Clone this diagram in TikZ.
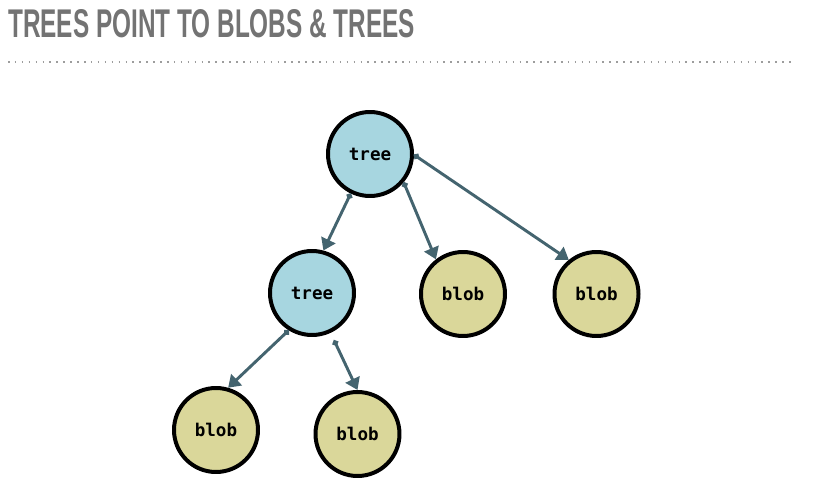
\documentclass[tikz,border=0pt]{standalone}
\usepackage{fontspec}
\usepackage{graphicx}
\setmainfont{Liberation Sans}
\setmonofont{DejaVu Sans Mono}
\usetikzlibrary{calc,arrows.meta}
\definecolor{treeblue}{HTML}{A7D6E0}
\definecolor{blobyellow}{HTML}{DAD79A}
\definecolor{linkgray}{HTML}{44646F}
\definecolor{titlegray}{HTML}{737373}
\tikzset{
	ball/.style={circle, draw=black, line width=3.4pt, minimum size=2.52cm, inner sep=0pt,
		font=\ttfamily\bfseries\fontsize{15}{17}\selectfont},
	treeball/.style={ball, fill=treeblue},
	blobball/.style={ball, fill=blobyellow},
	link/.style={draw=linkgray, line width=2.5pt,
		{Circle[length=5pt]}-{Triangle[length=10pt,width=13pt]}}
}

\begin{document}
\begin{tikzpicture}[x=0.03cm, y=-0.03cm]
		%%%%% START %%%%%
		\useasboundingbox (0, 0) rectangle (833, 479);
		
		\node[anchor=base west, inner sep=0, text=titlegray] (title) at (8, 38)
			{\resizebox{12.2cm}{0.84cm}{\bfseries TREES POINT TO BLOBS \& TREES}};
		\draw[titlegray!70, line width=1.3pt, dash pattern=on 1.3pt off 4.6pt] (8, 62) -- (793, 62);
		
		\node[treeball] (root) at (370, 154) {tree};
		\node[treeball] (subtree) at (312, 293) {tree};
		\node[blobball] (blobmid) at (463, 294) {blob};
		\node[blobball] (blobright) at (596.5, 294) {blob};
		\node[blobball] (blobleft) at (216, 430) {blob};
		\node[blobball] (blobsub) at (357.5, 434) {blob};
		
		\draw[link] (root.244) -- (subtree.75);
		\draw[link] (root.320) -- (blobmid.128);
		\draw[link] (root.-1) -- (blobright.129);
		\draw[link] (subtree.238) -- (blobleft.74);
		\draw[link, shorten <=7pt] (subtree.295) -- (blobsub.north);
		%%%%% END %%%%%
	\end{tikzpicture}
\end{document}
